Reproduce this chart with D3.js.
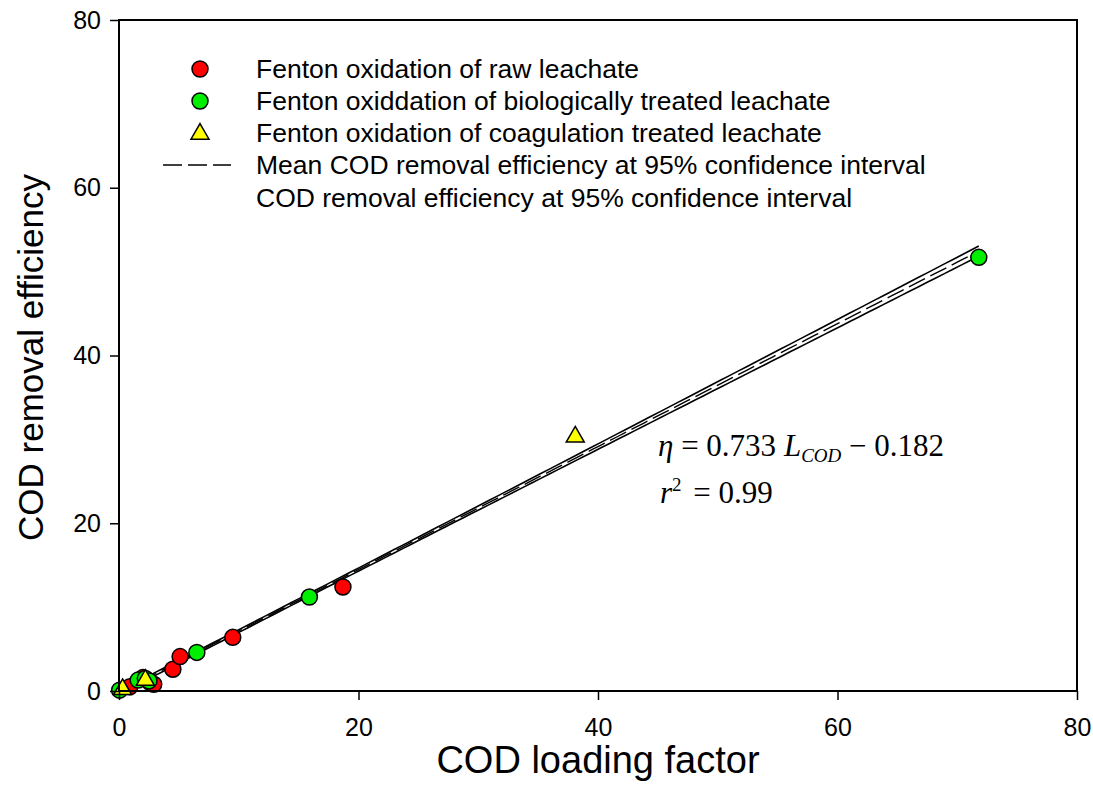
<!DOCTYPE html>
<html>
<head>
<meta charset="utf-8">
<script src="https://cdn.jsdelivr.net/npm/d3@7"></script>
<style>
  html, body { margin: 0; padding: 0; background: #fff; }
  svg { display: block; }
</style>
</head>
<body>
<svg id="chart" width="1093" height="804"></svg>
<script>
// Measured COD loading factor (x) and COD removal efficiency (y) per process
const rawX = [0.9, 2.0, 2.6, 2.9, 4.5, 5.1, 9.5, 18.7];
const rawY = [0.5, 1.6, 1.0, 0.8, 2.6, 4.1, 6.4, 12.4];
const bioX = [0.05, 1.6, 2.2, 2.5, 6.5, 15.9, 71.8];
const bioY = [0.1, 1.3, 1.5, 1.2, 4.6, 11.2, 51.7];
const coagX = [0.3, 2.2, 38.1];
const coagY = [0.2, 1.3, 30.3];

// Fitted regression (eta = slope * L_COD + intercept)
const slope = 0.733;
const intercept = -0.182;
const rSquared = 0.99;
// Standard error of the estimate and t value used for the 95% band
const stdErr = 0.33;
const tCrit = 2.12;

const xTicks = [0, 20, 40, 60, 80];
const yTicks = [0, 20, 40, 60, 80];

const legendLabels = [
  "Fenton oxidation of raw leachate",
  "Fenton oxiddation of biologically treated leachate",
  "Fenton oxidation of coagulation treated leachate",
  "Mean COD removal efficiency at 95% confidence interval",
  "COD removal efficiency at 95% confidence interval"
];

const svg = d3.select("#chart");
const margin = { left: 119, right: 16, top: 20, bottom: 113 };
const W = 1093, H = 804;

const x = d3.scaleLinear().domain([0, 80]).range([margin.left, W - margin.right]);
const y = d3.scaleLinear().domain([0, 80]).range([H - margin.bottom, margin.top]);

const font = "'Liberation Sans', Arial, sans-serif";

// Confidence band around the fitted line, from the pooled observations
const allX = rawX.concat(bioX, coagX);
const n = allX.length;
const xm = d3.mean(allX);
const sxx = d3.sum(allX, v => (v - xm) ** 2);
const xMax = d3.max(allX);
const xs = d3.range(0, xMax + 0.0001, xMax / 100);
const band = xs.map(v => {
  const hw = tCrit * stdErr * Math.sqrt(1 / n + (v - xm) ** 2 / sxx);
  const m = slope * v + intercept;
  return { x: v, m: m, lo: m - hw, hi: m + hw };
});

const clipId = "plotClip";
svg.append("clipPath").attr("id", clipId)
  .append("rect")
  .attr("x", x(0)).attr("y", y(80))
  .attr("width", x(80) - x(0)).attr("height", y(0) - y(80));

const lineG = svg.append("g").attr("clip-path", `url(#${clipId})`);
const mk = key => d3.line().x(d => x(d.x)).y(d => y(d[key]));
lineG.append("path").datum(band).attr("d", mk("hi"))
  .attr("fill", "none").attr("stroke", "#000").attr("stroke-width", 1.6);
lineG.append("path").datum(band).attr("d", mk("lo"))
  .attr("fill", "none").attr("stroke", "#000").attr("stroke-width", 1.6);
lineG.append("path").datum(band).attr("d", mk("m"))
  .attr("fill", "none").attr("stroke", "#000").attr("stroke-width", 1.4)
  .attr("stroke-dasharray", "18,6");

// Markers
const R = 8;
const triPath = size => {
  const h = size * Math.sqrt(3) / 2;
  return `M0,${-h * 2 / 3}L${size / 2},${h / 3}L${-size / 2},${h / 3}Z`;
};
const ptsG = svg.append("g");
function circles(xs_, ys_, fill) {
  ptsG.selectAll(null).data(xs_.map((v, i) => [v, ys_[i]])).enter()
    .append("circle")
    .attr("cx", d => x(d[0])).attr("cy", d => y(d[1])).attr("r", R)
    .attr("fill", fill).attr("stroke", "#000").attr("stroke-width", 1.5);
}
circles(rawX, rawY, "#ff0000");
circles(bioX, bioY, "#00ee00");
ptsG.selectAll(null).data(coagX.map((v, i) => [v, coagY[i]])).enter()
  .append("path")
  .attr("d", triPath(18))
  .attr("transform", d => `translate(${x(d[0])},${y(d[1])})`)
  .attr("fill", "#ffff00").attr("stroke", "#000").attr("stroke-width", 1.5);

// Frame
svg.append("rect")
  .attr("x", x(0)).attr("y", y(80))
  .attr("width", x(80) - x(0)).attr("height", y(0) - y(80))
  .attr("fill", "none").attr("stroke", "#000").attr("stroke-width", 2);

// Axes
const xAxis = svg.append("g")
  .attr("transform", `translate(0,${y(0)})`)
  .call(d3.axisBottom(x).tickValues(xTicks).tickSize(9).tickPadding(18).tickFormat(d3.format("d")));
const yAxis = svg.append("g")
  .attr("transform", `translate(${x(0)},0)`)
  .call(d3.axisLeft(y).tickValues(yTicks).tickSize(9).tickPadding(9).tickFormat(d3.format("d")));
[xAxis, yAxis].forEach(g => {
  g.select(".domain").remove();
  g.selectAll("line").attr("stroke", "#000").attr("stroke-width", 1.5);
  g.selectAll("text").attr("fill", "#000").attr("font-family", font).attr("font-size", 25);
});

// Axis titles
svg.append("text")
  .attr("x", (x(0) + x(80)) / 2).attr("y", 773)
  .attr("text-anchor", "middle")
  .attr("font-family", font).attr("font-size", 38)
  .text("COD loading factor");
svg.append("text")
  .attr("transform", `translate(43,${(y(0) + y(80)) / 2 + 2}) rotate(-90)`)
  .attr("text-anchor", "middle")
  .attr("font-family", font).attr("font-size", 35)
  .text("COD removal efficiency");

// Legend
const legY = [69, 101, 133, 165, 198];
const legSymX = 200, legTextX = 256;
const leg = svg.append("g").attr("font-family", font).attr("font-size", 26.5);
leg.append("circle").attr("cx", legSymX).attr("cy", legY[0]).attr("r", R)
  .attr("fill", "#ff0000").attr("stroke", "#000").attr("stroke-width", 1.5);
leg.append("circle").attr("cx", legSymX).attr("cy", legY[1]).attr("r", R)
  .attr("fill", "#00ee00").attr("stroke", "#000").attr("stroke-width", 1.5);
leg.append("path").attr("d", triPath(18))
  .attr("transform", `translate(${legSymX},${legY[2] + 1})`)
  .attr("fill", "#ffff00").attr("stroke", "#000").attr("stroke-width", 1.5);
leg.append("line")
  .attr("x1", 163).attr("x2", 231).attr("y1", legY[3]).attr("y2", legY[3])
  .attr("stroke", "#000").attr("stroke-width", 1.6).attr("stroke-dasharray", "19,6");
leg.selectAll("text.lab").data(legendLabels).enter()
  .append("text")
  .attr("x", legTextX).attr("y", (d, i) => legY[i])
  .attr("dy", "0.35em")
  .attr("fill", "#000")
  .text(d => d);

// Regression equation
const serif = "'Liberation Serif', 'Times New Roman', serif";
const eq = svg.append("text")
  .attr("x", 658).attr("y", 456)
  .attr("font-family", serif).attr("font-size", 31);
eq.append("tspan").attr("font-style", "italic").text("η");
eq.append("tspan").text(` = ${slope} `);
eq.append("tspan").attr("font-style", "italic").text("L");
eq.append("tspan").attr("font-style", "italic").attr("font-size", 19).attr("dy", 6).text("COD");
eq.append("tspan").attr("dy", -6).text(` − ${Math.abs(intercept)}`);

const r2 = svg.append("text")
  .attr("x", 660).attr("y", 503)
  .attr("font-family", serif).attr("font-size", 31);
r2.append("tspan").attr("font-style", "italic").text("r");
r2.append("tspan").attr("font-size", 19).attr("dy", -12).text("2");
r2.append("tspan").attr("dy", 12).attr("dx", 4).text(` = ${rSquared}`);
</script>
</body>
</html>
